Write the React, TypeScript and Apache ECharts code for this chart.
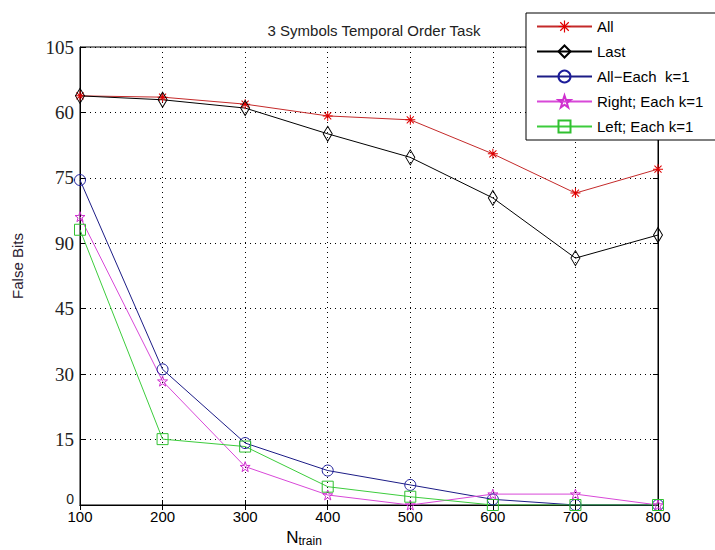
import React, { useEffect, useRef } from "react";
import * as echarts from "echarts";

const categories = [100, 200, 300, 400, 500, 600, 700, 800];
const yTickLabels = ["0", "15", "30", "45", "90", "75", "60", "105"];

const allVals = [93.8, 93.5, 91.9, 89.2, 88.3, 80.5, 71.5, 77.0];
const lastVals = [93.8, 92.9, 91.0, 85.1, 79.7, 70.4, 56.6, 61.9];
const allEachVals = [74.5, 31.1, 14.2, 7.9, 4.6, 1.3, 0, 0];
const rightVals = [66.1, 28.4, 8.8, 2.3, 0, 2.5, 2.5, 0];
const leftVals = [63.1, 15.1, 13.4, 4.2, 1.9, 0, 0, 0];

const seriesNames = ["All", "Last", "All\u2212Each  k=1", "Right; Each k=1", "Left; Each k=1"];

const ASTERISK =
  "path://M9,0 L11,0 L11,20 L9,20 Z M0,9 L20,9 L20,11 L0,11 Z M2.2,3.6 L3.6,2.2 L17.8,16.4 L16.4,17.8 Z M16.4,2.2 L17.8,3.6 L3.6,17.8 L2.2,16.4 Z";
const STAR =
  "path://M10,0 L12.35,6.9 L19.5,6.9 L13.8,11.2 L15.9,18.1 L10,14 L4.1,18.1 L6.2,11.2 L0.5,6.9 L7.65,6.9 Z";

export default function App() {
  const ref = useRef<HTMLDivElement>(null);
  useEffect(() => {
    if (!ref.current) return;
    const chart = echarts.init(ref.current, null, { renderer: "svg" });
    const pair = (vals: number[]) => categories.map((c, i) => [c, vals[i]]);
    const hollow = (c: string) => ({ color: "rgba(255,255,255,0)", borderColor: c, borderWidth: 1 });
    chart.setOption({
      animation: false,
      backgroundColor: "#ffffff",
      title: {
        text: "3 Symbols Temporal Order Task",
        left: 369,
        textAlign: "center",
        top: 18,
        textStyle: { fontFamily: "Liberation Sans", fontSize: 15, fontWeight: "normal", color: "#222" },
      },
      legend: {
        orient: "vertical",
        left: 526,
        top: 13,
        padding: [6, 24, 6, 10],
        itemGap: 10,
        itemWidth: 55,
        itemHeight: 15,
        backgroundColor: "#ffffff",
        borderColor: "#000",
        borderWidth: 1,
        borderRadius: 0,
        textStyle: { fontFamily: "Liberation Sans", fontSize: 15, color: "#000" },
        data: seriesNames,
      },
      grid: {
        left: 80,
        right: 57,
        top: 47,
        bottom: 45,
        show: true,
        borderColor: "#000",
        borderWidth: 1,
        outerBoundsMode: "none",
        containLabel: false,
      },
      xAxis: [
        {
          type: "value",
          min: 100,
          max: 800,
          interval: 100,
          name: "{n|N}{s|train}",
          nameLocation: "middle",
          nameGap: 21,
          nameTextStyle: {
            padding: [0, 130, 0, 0],
            rich: {
              n: { fontFamily: "Liberation Sans", fontSize: 17, color: "#000" },
              s: { fontFamily: "Liberation Sans", fontSize: 12, color: "#000", padding: [8, 0, 0, 0] },
            },
          },
          axisLine: { show: true, lineStyle: { color: "#000" } },
          axisTick: { inside: true, length: 5, lineStyle: { color: "#000" } },
          axisLabel: { fontFamily: "Liberation Sans", fontSize: 15, color: "#000", margin: 4 },
          splitLine: { show: true, lineStyle: { color: "#000", type: [1, 4], width: 1 } },
        },
        {
          type: "value",
          position: "top",
          min: 100,
          max: 800,
          interval: 100,
          axisLine: { show: true, lineStyle: { color: "#000" } },
          axisTick: { inside: true, length: 5, lineStyle: { color: "#000" } },
          axisLabel: { show: false },
          splitLine: { show: false },
        },
      ],
      yAxis: [
        {
          type: "value",
          min: 0,
          max: 105,
          interval: 15,
          name: "False Bits",
          nameLocation: "middle",
          nameGap: 55,
          nameRotate: 90,
          nameTextStyle: { fontFamily: "Liberation Sans", fontSize: 15, color: "#2a2030", padding: [0, 0, 0, 20] },
          axisLine: { show: true, lineStyle: { color: "#000" } },
          axisTick: { inside: true, length: 5, lineStyle: { color: "#000" } },
          axisLabel: {
            fontFamily: "Liberation Serif",
            fontSize: 19,
            color: "#222",
            margin: 6,
            formatter: (v: number) => {
              const idx = Math.round(v / 15);
              const t = yTickLabels[idx] ?? String(v);
              return idx === 0 ? "{z|" + t + "}" : t;
            },
            rich: {
              z: { fontFamily: "Liberation Sans", fontSize: 14, color: "#222", padding: [0, 0, 12, 0] },
            },
          },
          splitLine: { show: true, lineStyle: { color: "#000", type: [1, 4], width: 1 } },
        },
        {
          type: "value",
          position: "right",
          min: 0,
          max: 105,
          interval: 15,
          axisLine: { show: true, lineStyle: { color: "#000" } },
          axisTick: { inside: true, length: 5, lineStyle: { color: "#000" } },
          axisLabel: { show: false },
          splitLine: { show: false },
        },
      ],
      series: [
        {
          name: seriesNames[0],
          type: "line",
          data: pair(allVals),
          symbol: ASTERISK,
          symbolSize: 10,
          lineStyle: { color: "#c42a2a", width: 1 },
          itemStyle: { color: "#e00000" },
        },
        {
          name: seriesNames[1],
          type: "line",
          data: pair(lastVals),
          symbol: "diamond",
          symbolSize: [9, 15],
          lineStyle: { color: "#000", width: 1 },
          itemStyle: hollow("#000"),
        },
        {
          name: seriesNames[2],
          type: "line",
          data: pair(allEachVals),
          symbol: "circle",
          symbolSize: 11,
          lineStyle: { color: "#1c1c86", width: 1 },
          itemStyle: hollow("#1c1c9a"),
        },
        {
          name: seriesNames[3],
          type: "line",
          data: pair(rightVals),
          symbol: STAR,
          symbolSize: 10,
          lineStyle: { color: "#d848d8", width: 1 },
          itemStyle: hollow("#d030d0"),
        },
        {
          name: seriesNames[4],
          type: "line",
          data: pair(leftVals),
          symbol: "rect",
          symbolSize: 11,
          lineStyle: { color: "#3ccc3c", width: 1 },
          itemStyle: hollow("#30c030"),
        },
      ],
    });
    return () => chart.dispose();
  }, []);
  return <div ref={ref} style={{ width: 715, height: 550, position: "absolute", left: 0, top: 0 }} />;
}
